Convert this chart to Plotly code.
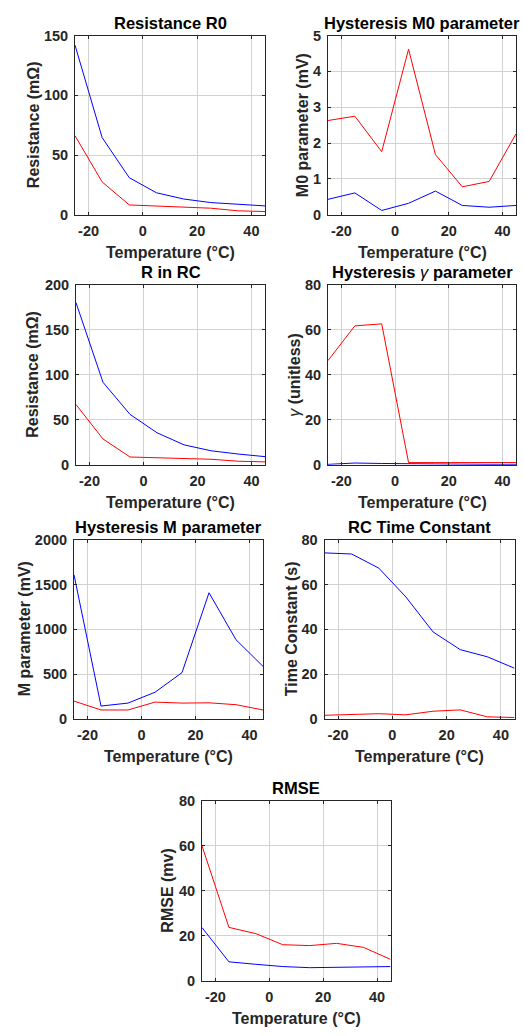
import plotly.graph_objects as go

# ---------------- data ----------------
temperature = [-25, -15, -5, 5, 15, 25, 35, 45]
x_tick_vals = [-20, 0, 20, 40]
x_tick_text = ["-20", "0", "20", "40"]

r0_blue = [142, 64.6, 31, 18.4, 13.2, 10.2, 8.8, 7.4]
r0_red = [66.2, 27.5, 8.2, 7.4, 6.6, 5.5, 3.3, 2.7]

m0_blue = [0.43, 0.61, 0.12, 0.32, 0.66, 0.26, 0.21, 0.26]
m0_red = [2.63, 2.75, 1.76, 4.62, 1.68, 0.78, 0.93, 2.26]

rc_r_blue = [180, 91.6, 56, 35.6, 22.2, 15.6, 12, 9.1]
rc_r_red = [66.9, 28.7, 8.7, 8.0, 6.9, 6.2, 4.0, 3.3]

gamma_blue = [0.2, 0.8, 0.6, 0.4, 0.3, 0.3, 0.2, 0.2]
gamma_red = [46.3, 61.7, 62.6, 1.0, 1.0, 1.0, 1.0, 1.0]

m_blue = [1608, 143, 176, 297, 516, 1407, 883, 586]
m_red = [198, 99, 99, 187, 176, 179, 158, 99]

tau_blue = [74.1, 73.6, 67.3, 54.4, 38.8, 30.9, 27.7, 22.6]
tau_red = [1.6, 1.9, 2.3, 1.8, 3.4, 4.0, 0.9, 0.6]

rmse_blue = [23.6, 8.4, 7.3, 6.3, 5.8, 6.0, 6.3, 6.3]
rmse_red = [59.9, 23.7, 20.9, 16.0, 15.6, 16.6, 14.8, 9.5]

GAMMA = '<span style="font-weight:normal"><i>\u03b3</i></span>'
titles = ["Resistance R0", "Hysteresis M0 parameter", "R in RC",
          "Hysteresis " + GAMMA + " parameter", "Hysteresis M parameter",
          "RC Time Constant", "RMSE"]
y_labels = ["Resistance (m\u03a9)", "M0 parameter (mV)", "Resistance (m\u03a9)",
            GAMMA + " (unitless)", "M parameter (mV)", "Time Constant (s)", "RMSE (mv)"]
x_label = "Temperature (\u00b0C)"
blue_series = [r0_blue, m0_blue, rc_r_blue, gamma_blue, m_blue, tau_blue, rmse_blue]
red_series = [r0_red, m0_red, rc_r_red, gamma_red, m_red, tau_red, rmse_red]
y_max = [150, 5, 200, 80, 2000, 80, 80]
y_dtick = [50, 1, 50, 20, 500, 20, 20]

# ---------------- layout (pixel boxes: left, top, right, bottom) ----------------
W, H = 524, 1036
boxes = [(75, 28, 265, 210), (328, 28, 516, 210),
         (76, 281, 265, 464), (328, 281, 516, 464),
         (74, 540, 263, 722), (324.5, 540, 514.5, 722),
         (202, 805, 390.5, 988)]
ylab_offset = [42, 26, 43, 33, 50, 33.5, 34]

FONT = "Liberation Sans, Arial, sans-serif"
TXT = "#262626"

fig = go.Figure()
annotations = []
layout_axes = {}
for i in range(7):
    l, t, r, b = boxes[i]
    sfx = "" if i == 0 else str(i + 1)
    xa, ya = "x" + sfx, "y" + sfx
    fig.add_trace(go.Scatter(x=temperature, y=blue_series[i], mode="lines",
                             line=dict(color="#0000ff", width=1),
                             xaxis=xa, yaxis=ya, showlegend=False))
    fig.add_trace(go.Scatter(x=temperature, y=red_series[i], mode="lines",
                             line=dict(color="#ff0000", width=1),
                             xaxis=xa, yaxis=ya, showlegend=False))
    common = dict(showline=True, linecolor=TXT, linewidth=1, mirror="allticks",
                  ticks="inside", ticklen=3, tickcolor=TXT,
                  showgrid=True, gridcolor="#d2d2d2", gridwidth=1,
                  zeroline=False,
                  tickfont=dict(family=FONT, size=14.5, color=TXT, weight="bold"))
    layout_axes["xaxis" + sfx] = dict(common, domain=[l / W, r / W], range=[-25, 45],
                                      tickvals=x_tick_vals, ticktext=x_tick_text,
                                      anchor=ya, ticklabelstandoff=3)
    layout_axes["yaxis" + sfx] = dict(common, domain=[1 - b / H, 1 - t / H],
                                      range=[0, y_max[i]], dtick=y_dtick[i], tick0=0,
                                      anchor=xa, ticklabelstandoff=3)
    cx = (l + r) / 2
    annotations.append(dict(text=titles[i], x=cx / W, y=1 - (t - 2) / H,
                            xref="paper", yref="paper", xanchor="center", yanchor="bottom",
                            showarrow=False,
                            font=dict(family=FONT, size=16.5, color="#000000", weight="bold")))
    annotations.append(dict(text=x_label, x=cx / W, y=1 - (b + 38) / H,
                            xref="paper", yref="paper", xanchor="center", yanchor="middle",
                            showarrow=False,
                            font=dict(family=FONT, size=16, color=TXT, weight="bold")))
    annotations.append(dict(text=y_labels[i], x=(l - ylab_offset[i]) / W,
                            y=1 - ((t + b) / 2) / H, textangle=-90,
                            xref="paper", yref="paper", xanchor="center", yanchor="middle",
                            showarrow=False,
                            font=dict(family=FONT, size=16, color=TXT, weight="bold")))

fig.update_layout(width=W, height=H, margin=dict(l=0, r=0, t=0, b=0),
                  paper_bgcolor="white", plot_bgcolor="white",
                  annotations=annotations, **layout_axes)

fig.write_html("out.html")
